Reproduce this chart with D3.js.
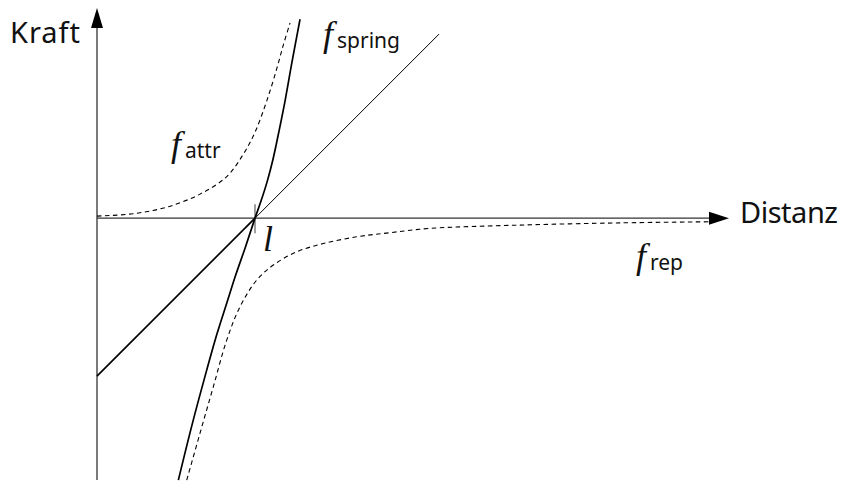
<!DOCTYPE html>
<html>
<head>
<meta charset="utf-8">
<script src="https://d3js.org/d3.v7.min.js"></script>
<style>
  body { margin: 0; background: #fff; }
  svg text.axisname { font-family: "Noto Sans", sans-serif; font-size: 29px; fill: #111; }
  svg text.math { font-family: "Liberation Serif", serif; font-style: italic; font-size: 36px; fill: #111; }
  svg text.sub { font-family: "Noto Sans", sans-serif; font-size: 21px; fill: #111; }
</style>
</head>
<body>
<svg></svg>
<script>
// distance in units of the rest length l, force in the same units
var springX = [0, 1, 2.165];
var springY = [-1, 0, 1.165];

// solid curve
var curveX = [0.515, 0.601, 0.684, 0.759, 0.823, 0.880, 0.937, 1.0, 1.038, 1.076, 1.114, 1.152, 1.190, 1.234, 1.285];
var curveY = [-1.658, -1.310, -1.0, -0.734, -0.532, -0.354, -0.190, 0, 0.108, 0.228, 0.373, 0.551, 0.741, 0.987, 1.259];

// attraction (dashed, above the axis)
var attrX = [0, 0.228, 0.443, 0.652, 0.821, 0.926, 1.0, 1.074, 1.137, 1.179, 1.222];
var attrY = [0.013, 0.028, 0.070, 0.152, 0.263, 0.405, 0.544, 0.741, 0.943, 1.095, 1.236];

// repulsion (dashed, below the axis)
var repX = [0.568, 0.652, 0.736, 0.821, 0.905, 1.011, 1.116, 1.264, 1.432, 1.644, 1.854, 2.108, 2.677, 3.310, 3.880];
var repY = [-1.658, -1.361, -1.068, -0.772, -0.561, -0.392, -0.297, -0.213, -0.161, -0.118, -0.092, -0.065, -0.044, -0.030, -0.023];

var tickValues = [1];
var tickLabels = ["l"];

var width = 842, height = 482;

var svg = d3.select("svg")
  .attr("width", width)
  .attr("height", height);

var x = d3.scaleLinear().domain([0, 4]).range([97, 729]);
var y = d3.scaleLinear().domain([-1.67, 1.33]).range([482, 8]);

var yBottom = -1.658;

// axes
var axisColor = "#333";
svg.append("line")
  .attr("x1", x(0)).attr("x2", x(4) - 19)
  .attr("y1", y(0)).attr("y2", y(0))
  .attr("stroke", axisColor).attr("stroke-width", 1.3);
svg.append("path")
  .attr("d", "M" + x(4) + "," + y(0) + "L" + (x(4) - 20) + "," + (y(0) - 6.5) + "L" + (x(4) - 20) + "," + (y(0) + 6.5) + "Z")
  .attr("fill", "#000");

svg.append("line")
  .attr("x1", x(0)).attr("x2", x(0))
  .attr("y1", y(yBottom)).attr("y2", y(1.33) + 19)
  .attr("stroke", axisColor).attr("stroke-width", 1.3);
svg.append("path")
  .attr("d", "M" + x(0) + "," + y(1.33) + "L" + (x(0) - 6) + "," + (y(1.33) + 20) + "L" + (x(0) + 6) + "," + (y(1.33) + 20) + "Z")
  .attr("fill", "#000");

// tick at l
svg.selectAll(".tick")
  .data(tickValues)
  .enter().append("line")
  .attr("class", "tick")
  .attr("x1", function(d) { return x(d); })
  .attr("x2", function(d) { return x(d); })
  .attr("y1", y(0) - 14).attr("y2", y(0) + 15)
  .attr("stroke", "#888").attr("stroke-width", 1.6);

var line = d3.line()
  .x(function(d) { return x(d[0]); })
  .y(function(d) { return y(d[1]); })
  .curve(d3.curveCatmullRom.alpha(0.5));

var straight = d3.line()
  .x(function(d) { return x(d[0]); })
  .y(function(d) { return y(d[1]); });

function pts(xs, ys) { return xs.map(function(v, i) { return [v, ys[i]]; }); }

// dashed curves
svg.append("path")
  .attr("d", line(pts(attrX, attrY)))
  .attr("fill", "none").attr("stroke", "#000")
  .attr("stroke-width", 1.1).attr("stroke-dasharray", "4.5,3.5");
svg.append("path")
  .attr("d", line(pts(repX, repY)))
  .attr("fill", "none").attr("stroke", "#000")
  .attr("stroke-width", 1.1).attr("stroke-dasharray", "4.5,3.5");

// straight spring line, lower part drawn heavier
var springPts = pts(springX, springY);
svg.append("path")
  .attr("d", straight(springPts.slice(0, 2)))
  .attr("fill", "none").attr("stroke", "#000").attr("stroke-width", 1.7);
svg.append("path")
  .attr("d", straight(springPts.slice(1)))
  .attr("fill", "none").attr("stroke", "#000").attr("stroke-width", 1);

// solid curve
svg.append("path")
  .attr("d", line(pts(curveX, curveY)))
  .attr("fill", "none").attr("stroke", "#000").attr("stroke-width", 1.7);

// labels
svg.append("text").attr("class", "axisname").attr("x", 10).attr("y", 43)
  .attr("textLength", 70).text("Kraft");
svg.append("text").attr("class", "axisname").attr("x", 740).attr("y", 223)
  .attr("textLength", 98).text("Distanz");

svg.selectAll(".ticklabel")
  .data(tickValues)
  .enter().append("text")
  .attr("class", "math ticklabel")
  .attr("x", function(d) { return x(d) + 8; })
  .attr("y", 251)
  .text(function(d, i) { return tickLabels[i]; });

function fLabel(px, py, sub) {
  svg.append("text").attr("class", "math").attr("x", px).attr("y", py).text("f");
  svg.append("text").attr("class", "sub").attr("x", px + 14).attr("y", py + 1.5).text(sub);
}
fLabel(323, 46, "spring");
fLabel(171, 156, "attr");
fLabel(636, 268, "rep");
</script>
</body>
</html>
